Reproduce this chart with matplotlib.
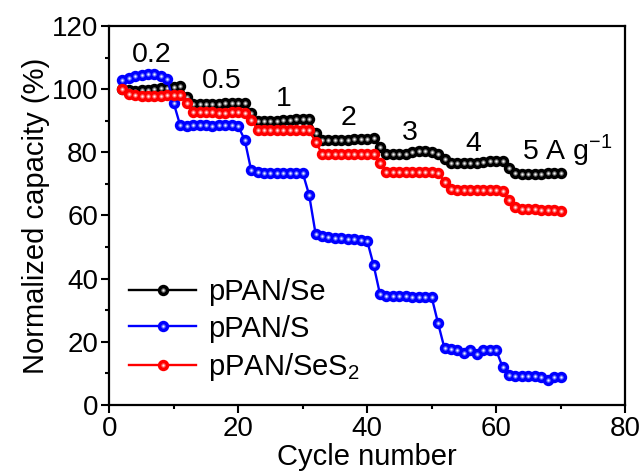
import numpy as np
import matplotlib
matplotlib.use('Agg')
import matplotlib.pyplot as plt
from matplotlib.ticker import MultipleLocator

plt.rcParams['font.family'] = ['Liberation Sans', 'DejaVu Sans']
plt.rcParams['mathtext.fontset'] = 'custom'
plt.rcParams['mathtext.rm'] = 'Liberation Sans'

# cycle numbers
cycles = list(range(2, 71))

# pPAN/Se
se = [100, 99.6, 99.5, 99.6, 99.8, 100, 100.2, 100.5, 100.8, 101,
      97.5,
      95.2, 95.2, 95.3, 95.4, 95.4, 95.5, 95.5, 95.6, 95.6,
      92.5,
      90.0, 89.8, 89.8, 90.0, 90.2, 90.3, 90.4, 90.4, 90.4,
      86.0,
      83.8, 83.8, 83.9, 84.0, 84.0, 84.1, 84.2, 84.3, 84.4,
      81.8,
      79.5, 79.4, 79.5, 79.6, 80.2, 80.5, 80.5, 80.2, 79.5,
      78.0,
      76.6, 76.5, 76.5, 76.6, 76.7, 76.9, 77.2, 77.4, 77.3,
      75.0,
      73.3, 73.0, 73.0, 73.1, 73.2, 73.3, 73.4, 73.6]

# pPAN/S
s = [102.9, 103.6, 104.2, 104.6, 104.8, 104.7, 104.3, 103.3,
     95.5,
     88.5, 88.4, 88.5, 88.6, 88.5, 88.2, 88.5, 88.7, 88.8, 88.2,
     84.0,
     74.4, 73.8, 73.6, 73.4, 73.3, 73.3, 73.4, 73.5, 73.5,
     66.5,
     54.2, 53.5, 53.2, 53.0, 52.8, 52.6, 52.4, 52.3, 52.0,
     44.3,
     35.0, 34.6, 34.5, 34.4, 34.4, 34.3, 34.2, 34.2, 34.2,
     25.9,
     17.9, 17.6, 17.3, 16.4, 17.5, 16.0, 17.3, 17.4, 17.4,
     12.1,
     9.5, 9.3, 9.2, 9.2, 9.1, 9.0, 8.0, 9.0, 9.0]

# pPAN/SeS2
ses2 = [100, 98.5, 98.0, 97.9, 97.8, 97.8, 97.9, 98.0, 98.0, 98.0,
        95.5,
        92.8, 92.7, 92.7, 92.7, 92.6, 92.6, 92.7, 92.7, 92.6,
        90.3,
        87.2, 87.1, 87.1, 87.1, 87.0, 87.0, 87.0, 87.0, 87.0,
        83.3,
        79.6, 79.6, 79.6, 79.6, 79.6, 79.6, 79.5, 79.5, 79.5,
        76.5,
        73.9, 73.8, 73.8, 73.8, 73.8, 73.8, 73.8, 73.7, 73.6,
        70.7,
        68.3, 68.2, 68.2, 68.1, 68.1, 68.1, 68.0, 68.0, 67.9,
        64.8,
        62.6, 62.2, 62.0, 61.9, 61.8, 61.7, 61.6, 61.5]

rate_labels = ['0.2', '0.5', '1', '2', '3', '4']
rate_x = [6.5, 17.4, 27.1, 37.1, 46.6, 56.4]
rate_y = [108.7, 100.3, 94.7, 88.7, 83.9, 80.5]

fig = plt.figure(figsize=(6.43, 4.72), dpi=100)
ax = fig.add_axes([0.170, 0.142, 0.802, 0.803])

series = [
    (se, 'pPAN/Se', 'black', '#7a7a7a', '#f4f4f4'),
    (s, 'pPAN/S', '#0000ff', '#5f6cff', '#eef0ff'),
    (ses2, r'pPAN/SeS$_2$', '#ff0000', '#ff6a6a', '#fff0f0'),
]

handles = []
for data, name, col, mid, hi in series:
    ln, = ax.plot(cycles, data, '-o', color=col, lw=1.7, ms=7.2,
                  mec=col, mfc=col, label=name)
    m1, = ax.plot(cycles, data, 'o', ms=3.2, mfc=mid, mec='none')
    m2, = ax.plot(cycles, data, 'o', ms=1.5, mfc=hi, mec='none')
    handles.append((ln, m1, m2))

for lab, x, y in zip(rate_labels, rate_x, rate_y):
    ax.text(x, y, lab, fontsize=20.5, ha='center', va='baseline')
ax.text(64.0, 77.9, r'5 A g$^{\mathregular{-1}}$', fontsize=20.5,
        ha='left', va='baseline')

ax.set_xlim(0, 80)
ax.set_ylim(0, 120)
ax.xaxis.set_major_locator(MultipleLocator(20))
ax.xaxis.set_minor_locator(MultipleLocator(10))
ax.yaxis.set_major_locator(MultipleLocator(20))
ax.yaxis.set_minor_locator(MultipleLocator(10))
ax.tick_params(which='major', direction='out', length=6, width=1.5,
               labelsize=20, pad=2)
ax.tick_params(which='minor', direction='out', length=3, width=1.5)
for sp in ax.spines.values():
    sp.set_linewidth(1.6)

ax.set_xlabel('Cycle number', fontsize=21, labelpad=1)
ax.set_ylabel('Normalized capacity (%)', fontsize=21, labelpad=1)

ax.legend(handles, [h[0].get_label() for h in handles], loc='lower left',
          bbox_to_anchor=(-0.012, -0.012), frameon=False, fontsize=21,
          handlelength=2.3, handletextpad=0.4, labelspacing=0.3,
          numpoints=1)

fig.savefig('out.png', dpi=100)
